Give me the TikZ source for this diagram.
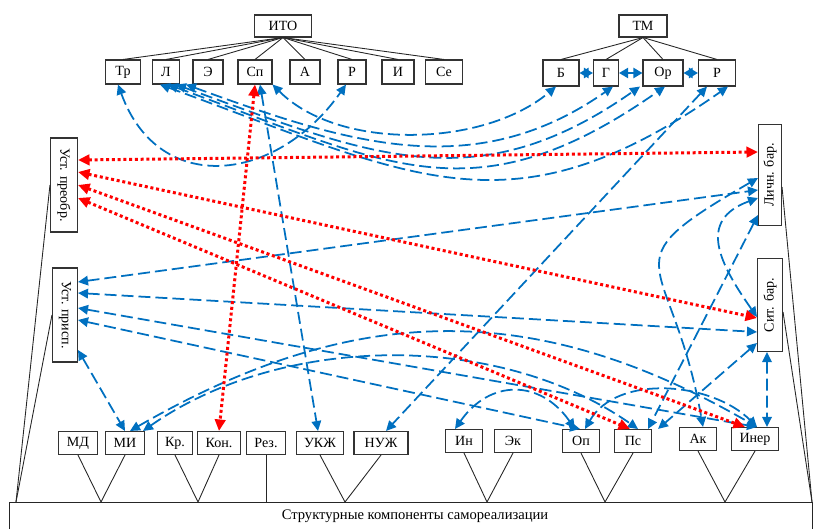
\documentclass[tikz,border=0pt]{standalone}
\usepackage{fontspec}
\setmainfont{Liberation Serif}
\usepackage{graphicx}
\usepackage{tikz}
\usetikzlibrary{arrows.meta}
\definecolor{linkblue}{RGB}{0,112,192}
\tikzset{
  box/.style={draw=black!80, line width=0.6pt, fill=white, inner xsep=1.6mm,
    inner ysep=0pt, minimum width=5.4mm, minimum height=4.8mm,
    font=\fontsize{8}{9.5}\selectfont},
  lowbox/.style={box, minimum width=7.4mm, minimum height=4.6mm},
  sidebox/.style={box, inner xsep=0pt},
  branch/.style={draw=black!85, line width=0.5pt},
  link/.style={draw=linkblue, line width=1pt, dash pattern=on 2.4mm off 1mm,
    {Triangle[length=2mm,width=1.9mm]}-{Triangle[length=2mm,width=1.9mm]}},
  pair/.style={draw=linkblue, line width=1.2pt,
    {Triangle[length=1.8mm,width=2mm]}-{Triangle[length=1.8mm,width=2mm]}},
  tie/.style={draw=red, line width=0.6mm, dash pattern=on 0.6mm off 0.55mm,
    {Triangle[length=2.3mm,width=2.1mm]}-{Triangle[length=2.3mm,width=2.1mm]}}
}
\begin{document}
\begin{tikzpicture}[x=0.2mm,y=-0.2mm]
\useasboundingbox (0,0) rectangle (814,529);
\node (ito) at (283,26) [box,minimum width=11.4mm,minimum height=4.4mm] {ИТО};
\node (tr) at (123,72) [box,minimum width=7mm] {Тр};
\node (l) at (166,72) [box] {Л};
\node (e) at (208,72) [box,minimum width=6mm] {Э};
\node (sp) at (255,72) [box,minimum width=6.8mm] {Сп};
\node (a) at (305,72) [box,minimum width=6mm] {А};
\node (r) at (352,72) [box,minimum width=5.6mm] {Р};
\node (i) at (398,72) [box,minimum width=6.4mm] {И};
\node (ce) at (444,72) [box,minimum width=7.4mm] {Се};
\node (tm) at (643,26) [box,minimum width=9.6mm,minimum height=4.4mm] {ТМ};
\node (tmb) at (561,73) [box,minimum width=7.2mm,minimum height=5.2mm] {Б};
\node (tmg) at (606,73) [box,minimum width=5mm,minimum height=5.2mm] {Г};
\node (tmor) at (663,73) [box,minimum width=8mm,minimum height=5.2mm] {Ор};
\node (tmr) at (717,73) [box,minimum width=7.4mm,minimum height=5.2mm] {Р};
\node (ustpr) at (64,185) [sidebox,minimum width=5.4mm,minimum height=18.8mm] {\rotatebox{-90}{Уст. преобр.}};
\node (ustad) at (65,315) [sidebox,minimum width=5mm,minimum height=18.8mm] {\rotatebox{-90}{Уст. присп.}};
\node (lichn) at (770,175) [sidebox,minimum width=4.6mm,minimum height=20.2mm] {\rotatebox{90}{Личн. бар.}};
\node (sit) at (770,305) [sidebox,minimum width=5mm,minimum height=18.6mm] {\rotatebox{90}{Сит. бар.}};
\node (md) at (78,443) [lowbox] {МД};
\node (mi) at (125,443) [lowbox] {МИ};
\node (kr) at (175,443) [lowbox,minimum width=7mm] {Кр.};
\node (kon) at (219,443) [lowbox,minimum width=7.2mm] {Кон.};
\node (rez) at (266,443) [lowbox,minimum width=6.6mm] {Рез.};
\node (ukzh) at (320,443) [lowbox,minimum width=9mm] {УКЖ};
\node (nuzh) at (381,443) [lowbox,minimum width=10.8mm] {НУЖ};
\node (inn) at (464,441) [lowbox] {Ин};
\node (ek) at (513,441) [lowbox] {Эк};
\node (op) at (581,441) [lowbox] {Оп};
\node (ps) at (633,441) [lowbox] {Пс};
\node (ak) at (698,439) [lowbox] {Ак};
\node (iner) at (755,439) [lowbox,minimum width=9mm] {Инер};
\node (base) at (415,516) [font=\fontsize{8.3}{10}\selectfont] {Структурные компоненты самореализации};
\coordinate (jleft) at (16,502);
\coordinate (jright) at (812,502);
\coordinate (j1) at (101,502);
\coordinate (j2) at (198,502);
\coordinate (j3) at (266,502);
\coordinate (j4) at (345,502);
\coordinate (j5) at (487,502);
\coordinate (j6) at (605,502);
\coordinate (j7) at (725,502);
\draw[branch] (9,529) |- (812,502) -- (812,529);
\foreach \n in {tr,l,e,sp,a,r,i,ce} \draw[branch] (ito.south) -- (\n.north);
\foreach \n in {tmb,tmg,tmor,tmr} \draw[branch] (tm.south) -- (\n.north);
\draw[branch] (md.south) -- (j1) -- (mi.south);
\draw[branch] (kr.south) -- (j2) -- (kon.south);
\draw[branch] (rez.south) -- (j3);
\draw[branch] (ukzh.south) -- (j4) -- (nuzh.south);
\draw[branch] (inn.south) -- (j5) -- (ek.south);
\draw[branch] (op.south) -- (j6) -- (ps.south);
\draw[branch] (ak.south) -- (j7) -- (iner.south);
\draw[branch] (ustpr.west) -- (jleft);
\draw[branch] (ustad.west) -- (jleft);
\draw[branch] ([yshift=-2.4mm]lichn.east) -- (jright);
\draw[branch] ([yshift=-1.4mm]sit.east) -- (jright);
\draw[pair] (tmb.east) -- (tmg.west);
\draw[pair] (tmg.east) -- (tmor.west);
\draw[pair] (tmor.east) -- (tmr.west);
\draw[link] ([xshift=-1mm]tr.south) to[out=-70,in=-125,looseness=1.35] ([xshift=-1.2mm]r.south);
\draw[link] (sp.south east) to[out=-45,in=-140,looseness=0.85] ([xshift=-1mm]tmb.south);
\draw[link] ([xshift=-1.2mm]l.south) to[out=-20,in=-145,looseness=1.2] ([xshift=2.2mm]tmr.south);
\draw[link] ([xshift=0.4mm]l.south) to[out=-20,in=-145,looseness=1.2] ([xshift=0.4mm]tmor.south);
\draw[link] ([xshift=2mm]l.south) to[out=-20,in=-145,looseness=1.12] ([xshift=-4.6mm]tmor.south);
\draw[link] ([xshift=4mm]l.south) to[out=-20,in=-145,looseness=1.02] ([xshift=1.4mm]tmg.south);
\draw[link] ([xshift=1mm]sp.south) -- ([xshift=-0.4mm]ukzh.north);
\draw[link] ([xshift=-2mm]tmr.south) -- ([xshift=1mm]nuzh.north);
\draw[link] ([yshift=6.6mm]ustad.east) -- ([yshift=-3mm]lichn.west);
\draw[link] ([yshift=4.4mm]ustad.east) -- ([yshift=-5.4mm]sit.west);
\draw[link] ([yshift=1.4mm]ustad.east) -- ([xshift=0.4mm]iner.north);
\draw[link] ([yshift=-1mm]ustad.east) -- ([xshift=-0.2mm]op.north);
\draw[link] ([yshift=-7mm]ustad.east) -- (mi.north);
\draw[link] ([yshift=-8mm]lichn.west) -- ([xshift=3mm]ps.north);
\draw[link] ([yshift=-7.6mm]sit.west) -- ([xshift=5mm]ps.north);
\draw[link] ([yshift=-4.6mm]lichn.west) to[out=200,in=125,looseness=1.4] ([yshift=-2.4mm]sit.west);
\draw[link] ([yshift=-0.6mm]lichn.west) to[out=210,in=100,looseness=1.8] ([xshift=1mm]ak.north);
\draw[link] ([xshift=-0.6mm]sit.south) -- ([xshift=2.4mm]iner.north);
\draw[link] ([xshift=-1.8mm]inn.north) to[out=55,in=125,looseness=1.3] ([xshift=-1.2mm]op.north);
\draw[link] ([xshift=0.8mm]op.north) to[out=60,in=135,looseness=0.95] ([xshift=0.4mm]iner.north);
\draw[link] ([xshift=1mm]mi.north) to[out=30,in=150,looseness=1.05] ([xshift=0.4mm]iner.north);
\draw[link] ([xshift=3.6mm]mi.north) to[out=35,in=145,looseness=0.88] ([xshift=1mm]ps.north);
\draw[tie] ([yshift=5mm]ustpr.east) -- ([yshift=4.6mm]lichn.west);
\draw[tie] ([yshift=2.6mm]ustpr.east) -- ([yshift=-2.6mm]sit.west);
\draw[tie] (ustpr.east) -- ([xshift=-2mm]iner.north);
\draw[tie] ([yshift=-2.6mm]ustpr.east) -- ([xshift=-0.6mm]ps.north);
\draw[tie] (sp.south) -- (kon.north);
\end{tikzpicture}
\end{document}
